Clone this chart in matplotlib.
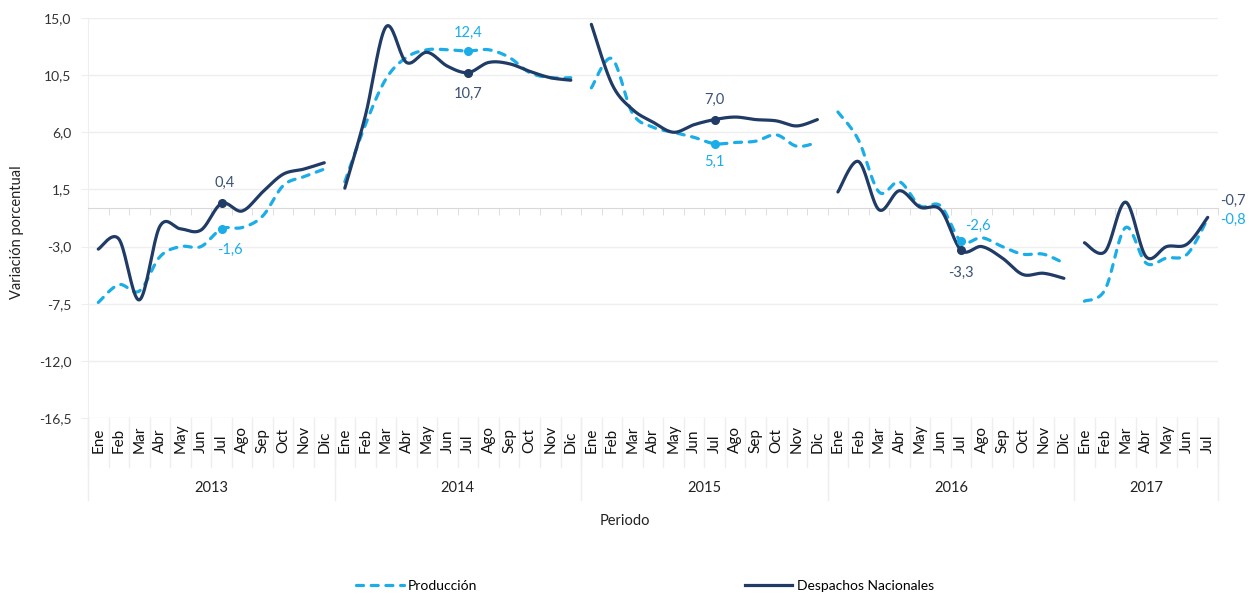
import numpy as np
import matplotlib.pyplot as plt
from matplotlib.lines import Line2D
import matplotlib.transforms as mtransforms

plt.rcParams['font.family'] = ['Lato', 'DejaVu Sans']

months = ['Ene', 'Feb', 'Mar', 'Abr', 'May', 'Jun', 'Jul', 'Ago', 'Sep', 'Oct', 'Nov', 'Dic']
years = ['2013', '2014', '2015', '2016', '2017']

prod_2013 = [-7.4, -6.0, -6.5, -3.8, -3.0, -3.0, -1.6, -1.5, -0.6, 1.8, 2.5, 3.1]
desp_2013 = [-3.2, -2.4, -7.2, -1.4, -1.6, -1.7, 0.4, -0.2, 1.3, 2.7, 3.1, 3.6]
prod_2014 = [2.1, 6.6, 10.2, 11.9, 12.5, 12.5, 12.4, 12.5, 11.9, 10.7, 10.3, 10.3]
desp_2014 = [1.6, 7.3, 14.3, 11.5, 12.3, 11.2, 10.7, 11.5, 11.4, 10.8, 10.3, 10.1]
prod_2015 = [9.5, 11.8, 7.5, 6.4, 6.0, 5.6, 5.1, 5.2, 5.3, 5.8, 4.9, 5.2]
desp_2015 = [14.5, 9.8, 7.8, 6.8, 6.0, 6.6, 7.0, 7.2, 7.0, 6.9, 6.5, 7.0]
prod_2016 = [7.6, 5.4, 1.3, 2.1, 0.2, 0.2, -2.6, -2.3, -3.0, -3.6, -3.6, -4.3]
desp_2016 = [1.3, 3.7, -0.1, 1.4, 0.1, -0.1, -3.3, -3.0, -3.9, -5.2, -5.1, -5.5]
prod_2017 = [-7.3, -6.4, -1.5, -4.3, -3.9, -3.6, -0.8]
desp_2017 = [-2.7, -3.4, 0.5, -3.8, -3.0, -2.8, -0.7]

prod = [prod_2013, prod_2014, prod_2015, prod_2016, prod_2017]
desp = [desp_2013, desp_2014, desp_2015, desp_2016, desp_2017]

yticks = [15.0, 10.5, 6.0, 1.5, -3.0, -7.5, -12.0, -16.5]

C_PROD = '#1aade8'
C_DESP = '#1f3b66'
C_DESP_TXT = '#3b5275'
C_GRID = '#eeeeee'
C_AXIS = '#d9d9d9'


def smooth(x, y, n=20):
    # bezier smoothing like excel (catmull-rom control points)
    x = np.asarray(x, float)
    y = np.asarray(y, float)
    px = np.concatenate([[x[0]], x, [x[-1]]])
    py = np.concatenate([[y[0]], y, [y[-1]]])
    t = np.linspace(0, 1, n, endpoint=False)[:, None]
    out = []
    for p in (px, py):
        seg = []
        for i in range(len(x) - 1):
            p0, p1, p2, p3 = p[i], p[i + 1], p[i + 2], p[i + 3]
            c1 = p1 + (p2 - p0) / 6
            c2 = p2 - (p3 - p1) / 6
            b = ((1 - t) ** 3 * p1 + 3 * (1 - t) ** 2 * t * c1
                 + 3 * (1 - t) * t ** 2 * c2 + t ** 3 * p2)
            seg.append(b.ravel())
        seg.append([p[-2]])
        out.append(np.concatenate(seg))
    return out


fig = plt.figure(figsize=(12.55, 5.95), dpi=100)
ax = fig.add_axes([88 / 1255, 1 - 418 / 595, 1130 / 1255, 400 / 595])

start = 0
for k in range(len(years)):
    n = len(prod[k])
    xs = np.arange(start, start + n)
    sx, sy = smooth(xs, prod[k])
    ax.plot(sx, sy, color=C_PROD, lw=2.3, dashes=(2.2, 2.4),
            dash_capstyle='round', zorder=3)
    sx, sy = smooth(xs, desp[k])
    ax.plot(sx, sy, color=C_DESP, lw=2.3, solid_capstyle='round', zorder=4)
    # marker on Jul (not on the last, still open year)
    if n == 12:
        ax.plot(xs[6], prod[k][6], 'o', color=C_PROD, ms=5.5, zorder=5)
        ax.plot(xs[6], desp[k][6], 'o', color=C_DESP, ms=5.5, zorder=5)
    start += n
total = start

# data labels (offsets in points): (despachos, produccion)
jul = [6 + 12 * k for k in range(5)]
lab_off = [((2, 15), (6, -15)), ((0, -15), (0, 13)), ((0, 14), (0, -13)),
           ((0, -16), (12, 11)), ((9, 12), (9, -1))]
for k in range(5):
    dv, pv = desp[k][6], prod[k][6]
    (dox, doy), (pox, poy) = lab_off[k]
    ha = 'left' if k == 4 else 'center'
    ax.annotate(f'{dv:.1f}'.replace('.', ','), (jul[k], dv), xytext=(dox, doy),
                textcoords='offset points', ha=ha, va='center',
                color=C_DESP_TXT, fontsize=10.5, annotation_clip=False)
    ax.annotate(f'{pv:.1f}'.replace('.', ','), (jul[k], pv), xytext=(pox, poy),
                textcoords='offset points', ha=ha, va='center',
                color=C_PROD, fontsize=10.5, annotation_clip=False)

ax.set_xlim(-0.5, total - 0.5)
ax.set_ylim(-16.5, 15.0)
ax.set_yticks(yticks)
ax.set_yticklabels([f'{v:.1f}'.replace('.', ',') for v in yticks],
                   fontsize=10, color='#333333')
ax.tick_params(axis='y', length=5, color=C_GRID, pad=7)
ax.grid(axis='y', color=C_GRID, lw=1)
ax.set_axisbelow(True)
for s in ['top', 'right']:
    ax.spines[s].set_visible(False)
ax.spines['left'].set_color(C_GRID)
ax.spines['bottom'].set_position(('data', 0))
ax.spines['bottom'].set_color(C_AXIS)
ax.set_xticks([])
ax.set_xticks(np.arange(-0.5, total), minor=True)
ax.tick_params(axis='x', which='minor', length=5, color=C_AXIS, direction='out')
ax.tick_params(axis='x', which='major', length=0)

# category labels below the plot
tr = mtransforms.blended_transform_factory(ax.transData, ax.transAxes)
labels = []
for k in range(len(years)):
    labels += months[:len(prod[k])]
for i, m in enumerate(labels):
    ax.text(i, -0.0875, m, rotation=90, ha='center', va='bottom',
            transform=tr, fontsize=11, color='#111111')
for b in np.arange(-0.5, total):
    ax.add_line(Line2D([b, b], [0, -0.1225], transform=tr, color=C_GRID,
                       lw=1, clip_on=False))
start = 0
for k, yr in enumerate(years):
    n = len(prod[k])
    ax.add_line(Line2D([start - 0.5, start - 0.5], [0, -0.205], transform=tr,
                       color=C_GRID, lw=1, clip_on=False))
    ax.text(start + (n - 1) / 2, -0.175, yr, ha='center', va='center',
            transform=tr, fontsize=10.5, color='#222222')
    start += n
ax.add_line(Line2D([total - 0.5, total - 0.5], [0, -0.205], transform=tr,
                   color=C_GRID, lw=1, clip_on=False))

fig.text(625 / 1255, 1 - 521 / 595, 'Periodo', ha='center', va='center',
         fontsize=10.5, color='#222222')
fig.text(17 / 1255, 1 - 232 / 595, 'Variación porcentual', rotation=90,
         ha='center', va='center', fontsize=10.5, color='#222222')

handles = [Line2D([], [], color=C_PROD, lw=2.3, dashes=(2.2, 2.4),
                  dash_capstyle='round'),
           Line2D([], [], color=C_DESP, lw=2.3)]
fig.legend(handles, ['Producción', 'Despachos Nacionales'], ncol=2,
           loc='center', bbox_to_anchor=(645 / 1255, 1 - 586 / 595),
           frameon=False, fontsize=10, handlelength=3.4, handletextpad=0.3,
           columnspacing=19.3)

fig.savefig('out.png', dpi=100)
